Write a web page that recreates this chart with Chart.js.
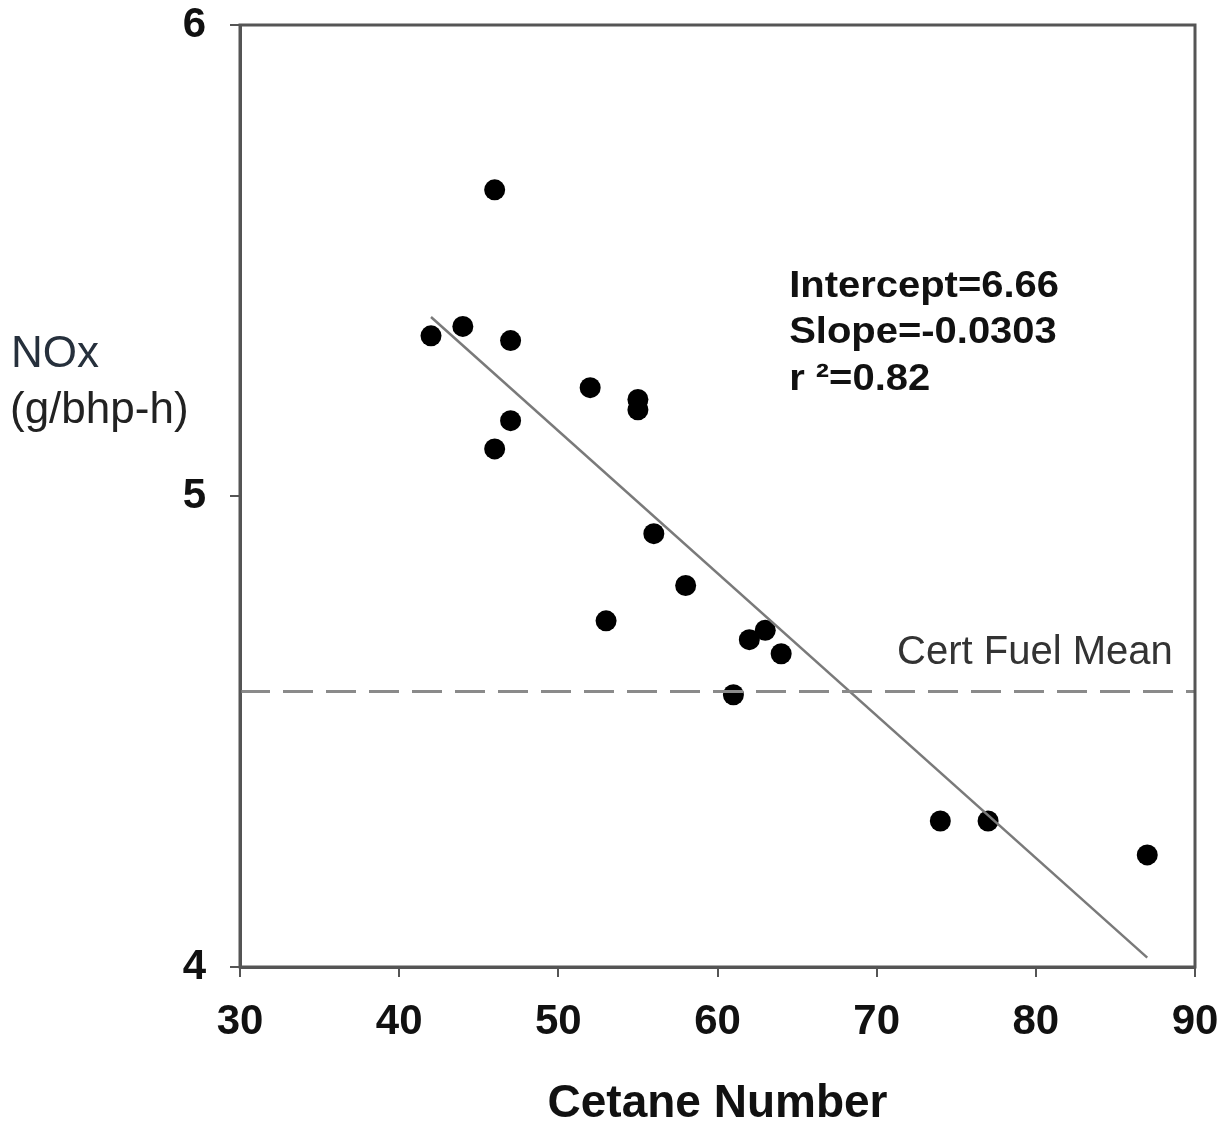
<!DOCTYPE html>
<html>
<head>
<meta charset="utf-8">
<script src="https://cdn.jsdelivr.net/npm/chart.js@4"></script>
<style>
  html, body { margin: 0; padding: 0; background: #fff; }
  #wrap { width: 1225px; height: 1130px; position: relative; }
</style>
</head>
<body>
<div id="wrap"><canvas id="myChart"></canvas></div>
<script>
// cetane number vs NOx points
let cetane = [42, 44, 46, 47, 47, 46, 52, 55, 55, 56, 58, 53, 62, 63, 64, 61, 74, 77, 87];
let nox = [5.34, 5.36, 5.65, 5.33, 5.16, 5.10, 5.23, 5.205, 5.183, 4.92, 4.81, 4.735, 4.695, 4.715, 4.665, 4.578, 4.31, 4.31, 4.238];

// fitted line ends and certification fuel mean
let fitX = [42, 87];
let fitY = [5.38, 4.02];
let certX = [30, 90];
let certY = [4.585, 4.585];

let xTicks = [30, 40, 50, 60, 70, 80, 90];
let yTicks = [4, 5, 6];
let fitText = ["Intercept=6.66", "Slope=-0.0303", "r \u00b2=0.82"];

const pts = (xs, ys) => xs.map((x, i) => ({ x: x, y: ys[i] }));

const extras = {
    id: "extras",
    afterDraw(chart) {
        const { ctx, chartArea, scales } = chart;
        ctx.save();
        // frame top + right
        ctx.strokeStyle = "#555";
        ctx.lineWidth = 3;
        ctx.strokeRect(chartArea.left, chartArea.top, chartArea.right - chartArea.left, chartArea.bottom - chartArea.top);

        // y axis title
        ctx.fillStyle = "#26303c";
        ctx.font = "44px 'Liberation Sans', Arial, sans-serif";
        ctx.textAlign = "left";
        ctx.textBaseline = "middle";
        ctx.fillText("NOx", 11, 355);
        ctx.fillStyle = "#222";
        ctx.fillText("(g/bhp-h)", 10, 411);

        // regression stats, a bit wide like the scan
        ctx.fillStyle = "#111";
        ctx.font = "bold 37px 'Liberation Sans', Arial, sans-serif";
        let ax = scales.x.getPixelForValue(64.5);
        let ay = scales.y.getPixelForValue(5.445);
        fitText.forEach((t, i) => {
            ctx.save();
            ctx.translate(ax, ay + i * 46.5);
            ctx.scale(1.08, 1);
            ctx.fillText(t, 0, 0);
            ctx.restore();
        });

        // cert fuel mean label
        ctx.fillStyle = "#333";
        ctx.font = "40px 'Liberation Sans', Arial, sans-serif";
        ctx.textAlign = "right";
        ctx.fillText("Cert Fuel Mean", scales.x.getPixelForValue(88.6), scales.y.getPixelForValue(4.667));
        ctx.restore();
    }
};

new Chart(document.getElementById("myChart"), {
    type: "scatter",
    data: {
        datasets: [
            {
                type: "line",
                data: pts(certX, certY),
                borderColor: "#8a8a8a",
                borderWidth: 3,
                borderDash: [30, 13],
                pointRadius: 0
            },
            {
                type: "line",
                data: pts(fitX, fitY),
                borderColor: "#7a7a7a",
                borderWidth: 2.5,
                pointRadius: 0
            },
            {
                data: pts(cetane, nox),
                backgroundColor: "#000",
                borderWidth: 0,
                pointRadius: 10.5
            }
        ]
    },
    options: {
        responsive: true,
        maintainAspectRatio: false,
        animation: false,
        layout: { padding: { left: 0, right: 30, top: 25, bottom: 0 } },
        plugins: { legend: { display: false }, tooltip: { enabled: false } },
        scales: {
            x: {
                type: "linear",
                min: 30,
                max: 90,
                afterBuildTicks: (s) => { s.ticks = xTicks.map(v => ({ value: v })); },
                afterFit: (s) => {
                    s.height = 163;
                    s.paddingLeft = 0;
                    s.paddingRight = 0;
                },
                ticks: {
                    color: "#111",
                    padding: 20,
                    font: { family: "'Liberation Sans', Arial, sans-serif", size: 42, weight: "bold" }
                },
                grid: { drawOnChartArea: false, color: "#555", tickLength: 10, lineWidth: 2 },
                border: { color: "#555", width: 3 },
                title: {
                    display: true,
                    text: "Cetane Number",
                    color: "#111",
                    padding: 0,
                    font: { family: "'Liberation Sans', Arial, sans-serif", size: 46, weight: "bold", lineHeight: 1.1 }
                }
            },
            y: {
                type: "linear",
                min: 4,
                max: 6,
                afterBuildTicks: (s) => { s.ticks = yTicks.map(v => ({ value: v })); },
                afterFit: (s) => {
                    s.width = 240;
                    s.paddingTop = 0;
                    s.paddingBottom = 0;
                },
                ticks: {
                    color: "#111",
                    padding: 24,
                    font: { family: "'Liberation Sans', Arial, sans-serif", size: 42, weight: "bold" }
                },
                grid: { drawOnChartArea: false, color: "#555", tickLength: 10, lineWidth: 2 },
                border: { color: "#555", width: 3 }
            }
        }
    },
    plugins: [extras]
});
</script>
</body>
</html>
